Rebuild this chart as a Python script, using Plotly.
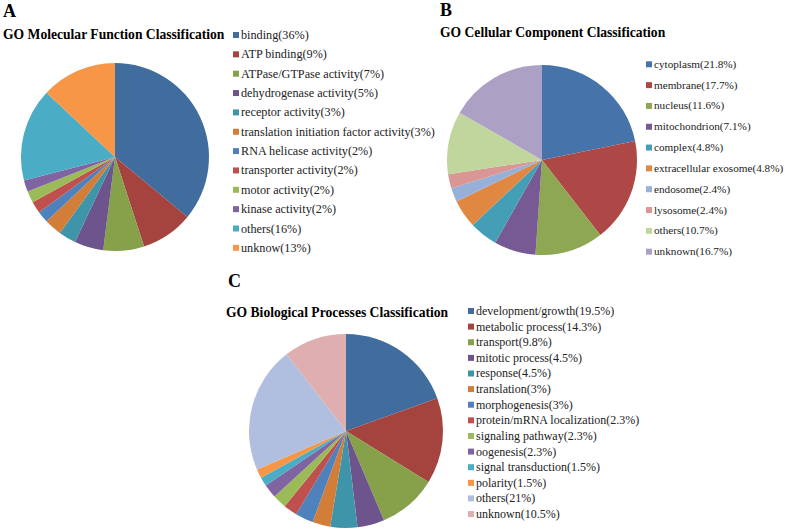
import plotly.graph_objects as go

W, H = 787, 529

# ---------------- data ----------------
mf_labels = ["binding", "ATP binding", "ATPase/GTPase activity", "dehydrogenase activity",
             "receptor activity", "translation initiation factor activity", "RNA helicase activity",
             "transporter activity", "motor activity", "kinase activity", "others", "unknow"]
mf_values = [36, 9, 7, 5, 3, 3, 2, 2, 2, 2, 16, 13]

cc_labels = ["cytoplasm", "membrane", "nucleus", "mitochondrion", "complex",
             "extracellular exosome", "endosome", "lysosome", "others", "unknown"]
cc_values = [21.8, 17.7, 11.6, 7.1, 4.8, 4.8, 2.4, 2.4, 10.7, 16.7]

bp_labels = ["development/growth", "metabolic process", "transport", "mitotic process", "response",
             "translation", "morphogenesis", "protein/mRNA localization", "signaling pathway",
             "oogenesis", "signal transduction", "polarity", "others", "unknown"]
bp_values = [19.5, 14.3, 9.8, 4.5, 4.5, 3, 3, 2.3, 2.3, 2.3, 1.5, 1.5, 21, 10.5]

dark6 = ["#416C9E", "#A5433F", "#86A14A", "#6D548C", "#3E95AA", "#D27E38"]
accent6 = ["#4F81BD", "#C0504D", "#9BBB59", "#8064A2", "#4BACC6", "#F79646"]
mf_colors = dark6 + accent6
cc_colors = ["#4674AA", "#AE4846", "#8EA752", "#775A94", "#449FB6", "#E08741",
             "#97B0DA", "#D99694", "#C1D69D", "#ADA0C5"]
bp_colors = dark6 + accent6 + ["#B0BFDF", "#DFAFAF"]

FONT = "Liberation Serif"


def px(x):
    return x / W


def py(y):
    return 1 - y / H


panels = [
    dict(letter="A", title="GO Molecular Function Classification", labels=mf_labels,
         values=mf_values, colors=mf_colors,
         dom=(21, 209, 63, 251), letter_xy=(1, 11), title_xy=(1, 35),
         leg_x=233, leg_y0=35, leg_dy=19.35, leg_size=12.2),
    dict(letter="B", title="GO Cellular Component Classification", labels=cc_labels,
         values=cc_values, colors=cc_colors,
         dom=(447, 637, 65, 255), letter_xy=(438, 10), title_xy=(438, 32),
         leg_x=646, leg_y0=64.3, leg_dy=20.82, leg_size=11.2),
    dict(letter="C", title="GO Biological Processes Classification", labels=bp_labels,
         values=bp_values, colors=bp_colors,
         dom=(249, 443, 334, 528), letter_xy=(226, 281), title_xy=(224, 312),
         leg_x=468, leg_y0=311, leg_dy=15.62, leg_size=12),
]

fig = go.Figure()
annotations = []
shapes = []

for p in panels:
    x0, x1, y0, y1 = p["dom"]
    fig.add_trace(go.Pie(
        labels=p["labels"], values=p["values"], sort=False, direction="clockwise",
        rotation=0, textinfo="none", showlegend=False, hoverinfo="label+percent",
        marker=dict(colors=p["colors"], line=dict(width=0)),
        domain=dict(x=[px(x0), px(x1)], y=[py(y1), py(y0)]),
    ))
    lx, ly = p["letter_xy"]
    annotations.append(dict(text="<b>%s</b>" % p["letter"], x=px(lx), y=py(ly), xref="paper",
                            yref="paper", xanchor="left", yanchor="middle", showarrow=False,
                            font=dict(family=FONT, size=18, color="black")))
    tx, ty = p["title_xy"]
    annotations.append(dict(text="<b>%s</b>" % p["title"], x=px(tx), y=py(ty), xref="paper",
                            yref="paper", xanchor="left", yanchor="middle", showarrow=False,
                            font=dict(family=FONT, size=13.6, color="black")))
    for i, (lab, val, col) in enumerate(zip(p["labels"], p["values"], p["colors"])):
        yy = p["leg_y0"] + i * p["leg_dy"]
        sx = p["leg_x"]
        shapes.append(dict(type="rect", xref="paper", yref="paper",
                           x0=px(sx), x1=px(sx + 6), y0=py(yy + 3), y1=py(yy - 3),
                           fillcolor=col, line=dict(width=0)))
        annotations.append(dict(text="%s(%g%%)" % (lab, val), x=px(sx + 6), y=py(yy),
                                xref="paper", yref="paper", xanchor="left", yanchor="middle",
                                showarrow=False,
                                font=dict(family=FONT, size=p["leg_size"], color="#222222")))

fig.update_layout(
    width=W, height=H, margin=dict(l=0, r=0, t=0, b=0),
    paper_bgcolor="white", plot_bgcolor="white",
    annotations=annotations, shapes=shapes, showlegend=False,
)

fig.write_html("out.html", config={"displayModeBar": False},
               post_script="document.body.style.margin='0';document.body.style.padding='0';")
